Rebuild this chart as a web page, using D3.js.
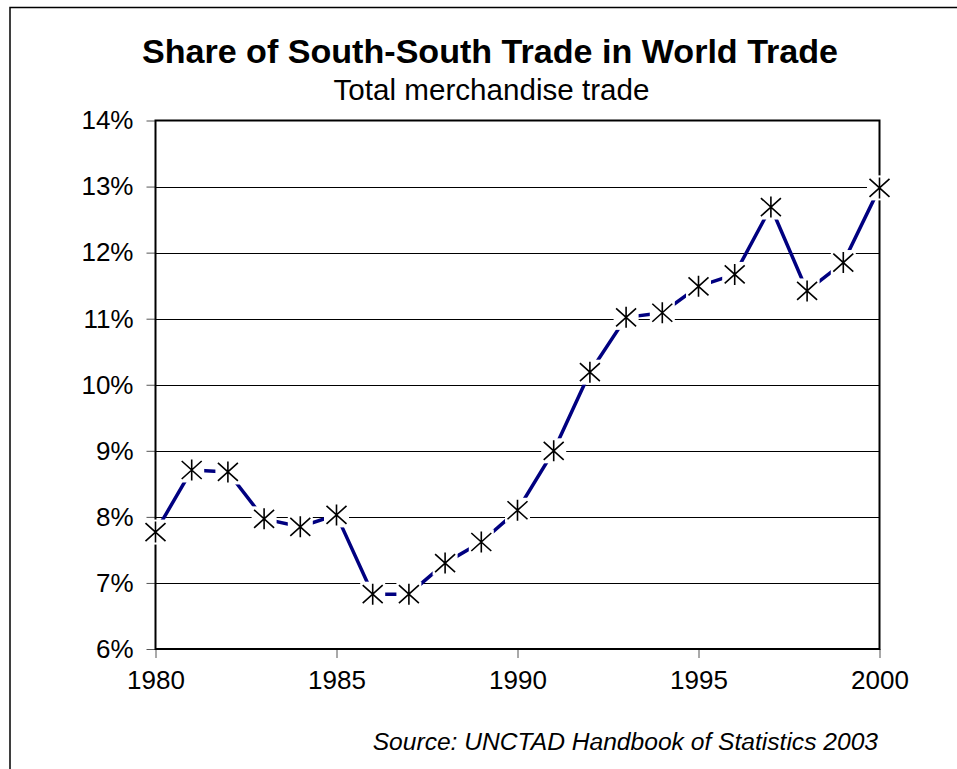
<!DOCTYPE html>
<html>
<head>
<meta charset="utf-8">
<script src="https://cdn.jsdelivr.net/npm/d3@7"></script>
<style>
  html, body { margin: 0; padding: 0; background: #fff; }
  svg { display: block; }
  text { font-family: "Liberation Sans", Arial, sans-serif; fill: #000; }
</style>
</head>
<body>
<svg id="chart" width="957" height="769"></svg>
<script>
const years = [1980,1981,1982,1983,1984,1985,1986,1987,1988,1989,1990,1991,1992,1993,1994,1995,1996,1997,1998,1999,2000];
const shares = [7.77,8.71,8.68,7.97,7.85,8.03,6.83,6.83,7.30,7.62,8.10,9.00,10.19,11.02,11.09,11.49,11.67,12.69,11.42,11.85,12.98];
const yTicks = [6,7,8,9,10,11,12,13,14];
const xTicks = [1980,1985,1990,1995,2000];
const titleText = "Share of South-South Trade in World Trade";
const subtitleText = "Total merchandise trade";
const sourceText = "Source: UNCTAD Handbook of Statistics 2003";

const svg = d3.select("#chart");
const pLeft = 155.5, pRight = 879.5, pTop = 120.5, pBottom = 649;

const x = d3.scaleLinear().domain([1980, 2000]).range([pLeft, pRight]);
const y = d3.scaleLinear().domain([6, 14]).range([pBottom, pTop]);

// outer frame
svg.append("rect").attr("x", 10).attr("y", 7.5).attr("width", 1200).attr("height", 1200)
  .attr("fill", "none").attr("stroke", "#000").attr("stroke-width", 1.5);

// titles
svg.append("text").attr("x", 490).attr("y", 63).attr("text-anchor", "middle")
  .attr("font-size", 34.1).attr("font-weight", "bold").text(titleText);
svg.append("text").attr("x", 491.5).attr("y", 100).attr("text-anchor", "middle")
  .attr("font-size", 29.6).text(subtitleText);
svg.append("text").attr("x", 878).attr("y", 750).attr("text-anchor", "end")
  .attr("font-size", 24.6).attr("font-style", "italic").text(sourceText);

// gridlines
svg.append("g").selectAll("line").data(yTicks.slice(1, -1)).join("line")
  .attr("x1", pLeft).attr("x2", pRight)
  .attr("y1", d => Math.round(y(d)) + 0.5).attr("y2", d => Math.round(y(d)) + 0.5)
  .attr("stroke", "#000").attr("stroke-width", 1);

// axes
const yAxis = d3.axisLeft(y).tickValues(yTicks).tickFormat(d => d + "%").tickSize(9).tickPadding(13);
const gy = svg.append("g").attr("transform", `translate(${pLeft},0)`).call(yAxis);
gy.select(".domain").remove();
gy.selectAll(".tick line").attr("stroke", "#555");
gy.selectAll(".tick text").attr("font-size", 26).attr("font-family", "Liberation Sans, Arial, sans-serif").attr("fill", "#000");

const xAxis = d3.axisBottom(x).tickValues(xTicks).tickFormat(d3.format("d")).tickSize(9).tickPadding(13);
const gx = svg.append("g").attr("transform", `translate(0,${pBottom})`).call(xAxis);
gx.select(".domain").remove();
gx.selectAll(".tick line").attr("stroke", "#555");
gx.selectAll(".tick text").attr("font-size", 26).attr("font-family", "Liberation Sans, Arial, sans-serif").attr("fill", "#000");

// plot frame
svg.append("rect").attr("x", pLeft).attr("y", pTop).attr("width", pRight - pLeft).attr("height", pBottom - pTop)
  .attr("fill", "none").attr("stroke", "#000").attr("stroke-width", 2);

// series line
const data = years.map((yr, i) => ({ yr, v: shares[i] }));
svg.append("path").datum(data)
  .attr("d", d3.line().x(d => x(d.yr)).y(d => y(d.v)))
  .attr("fill", "none").attr("stroke", "#000080").attr("stroke-width", 3.5).attr("stroke-linejoin", "round");

// markers
const mk = svg.append("g").selectAll("g").data(data).join("g")
  .attr("transform", d => `translate(${x(d.yr)},${y(d.v)})`);
mk.append("rect").attr("x", -12.5).attr("y", -12.5).attr("width", 25).attr("height", 25).attr("fill", "#fff");
mk.append("path").attr("d", "M-10,-9L10,9M-10,9L10,-9M0,-10.5L0,10.5")
  .attr("stroke", "#000").attr("stroke-width", 1.6).attr("fill", "none");
</script>
</body>
</html>
